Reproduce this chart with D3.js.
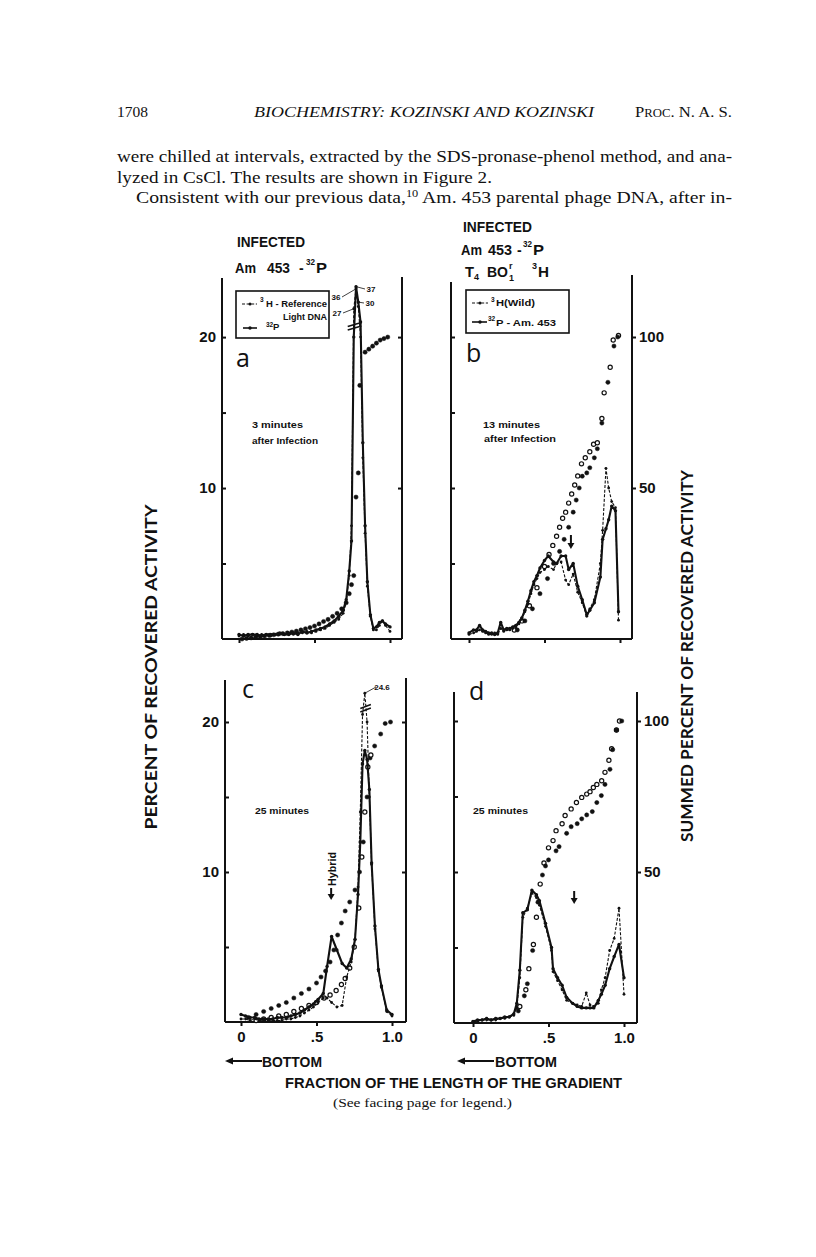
<!DOCTYPE html>
<html>
<head>
<meta charset="utf-8">
<script src="https://cdn.jsdelivr.net/npm/d3@7"></script>
<style>body{margin:0;background:#fff}</style>
</head>
<body>
<script>
// ---- panel a : 3 minutes ----
const xA = [0.00,0.03,0.06,0.09,0.12,0.15,0.18,0.21,0.24,0.27,0.30,0.33,0.36,0.39,0.42,0.45,0.48,0.51,0.54,0.57,0.60,0.63,0.66,0.69,
  0.71,0.73,0.745,0.76,0.775,0.79,0.805,0.82,0.835,0.85,0.87,0.89,0.91,0.93,0.95,0.97,1.00]
const h3A = [0.2,0.3,0.2,0.3,0.2,0.3,0.3,0.2,0.3,0.3,0.3,0.4,0.3,0.4,0.4,0.5,0.4,0.5,0.6,0.7,0.9,1.1,1.3,1.7,
  2.4,4.2,7.5,27,36,28,20,12,7,3.5,1.5,0.6,0.6,0.9,1.2,0.9,0.5]
const p32A = [0.3,0.2,0.3,0.3,0.3,0.2,0.3,0.3,0.3,0.4,0.3,0.3,0.4,0.3,0.5,0.4,0.5,0.6,0.7,0.8,1.0,1.2,1.5,1.9,
  2.6,4.5,6.5,20,37,30,21,13,7.5,3.8,1.6,0.7,0.8,1.1,1.2,1.0,0.8]
const sumAx = [0.02,0.05,0.08,0.11,0.14,0.17,0.20,0.23,0.26,0.29,0.32,0.35,0.38,0.41,0.44,0.47,0.50,0.53,0.56,0.59,0.62,0.65,0.68,0.71,
  0.73,0.745,0.76,0.775,0.79,0.80,0.835,0.86,0.885,0.91,0.935,0.96,0.985]
const sumA = [0,0.2,0.4,0.6,0.8,1,1.2,1.4,1.6,1.8,2,2.3,2.6,3,3.4,3.8,4.3,5,5.8,6.5,7.5,8.5,10,12,
  15,18,21,47,55,84,95,96,97,98,99,99.5,100]

// ---- panel b : 13 minutes ----
const xB = [0.00,0.03,0.05,0.07,0.09,0.11,0.13,0.15,0.17,0.19,0.21,0.23,0.25,0.27,0.29,0.31,0.33,0.35,0.37,0.39,0.41,0.43,0.45,0.47,
  0.50,0.525,0.56,0.58,0.61,0.64,0.66,0.69,0.72,0.75,0.78,0.80,0.83,0.87,0.885,0.907,0.925,0.945,0.97,0.99]
const p32B = [0.4,0.6,0.6,0.9,0.6,0.5,0.4,0.4,0.3,0.4,1.1,0.6,0.7,0.7,0.8,0.9,1.1,1.4,1.9,2.5,3.2,3.8,4.2,4.7,
  5.2,5.5,5.1,5.0,5.5,5.5,4.6,5.0,3.5,2.6,1.6,1.9,2.4,4.1,6.6,7.3,7.9,8.8,8.5,1.8]
const h3B = [0.3,0.4,0.5,0.6,0.5,0.4,0.3,0.3,0.4,0.3,0.7,0.5,0.6,0.6,0.7,0.8,1.0,1.3,1.8,2.3,3.0,3.6,4.0,4.4,
  4.6,4.8,4.6,5.0,5.1,3.9,3.6,4.3,3.1,2.4,1.5,2.0,2.6,5.0,7.2,11.3,10.0,9.1,8.7,1.25]
const sumB1x = [0.30,0.35,0.40,0.45,0.50,0.53,0.555,0.58,0.60,0.62,0.64,0.66,0.68,0.70,0.72,0.745,0.77,0.80,0.825,0.85,0.88,0.895,0.935,0.955,0.99]
const sumB1 = [3,6,11,17,24,28,31,34,37,40,42,45,48,51,54,58,60,62,64.5,65,73,81.5,90,99,100.5]
const sumB2x = [0.32,0.37,0.42,0.47,0.52,0.56,0.60,0.63,0.66,0.69,0.71,0.73,0.75,0.78,0.80,0.83,0.85,0.88,0.92,0.96,0.985]
const sumB2 = [3,6,10,15,20,25,29,33,37,42,46,50,53.9,55,56.7,60,63,71.5,85,97,100]

// ---- panel c : 25 minutes ----
const xC = [0.00,0.03,0.06,0.09,0.12,0.15,0.18,0.21,0.24,0.27,0.30,0.33,0.36,0.39,0.42,0.45,0.48,0.51,
  0.545,0.57,0.60,0.635,0.67,0.70,0.73,0.755,0.775,0.79,0.805,0.82,0.835,0.85,0.865,0.887,0.91,0.93,0.965,1.00]
const p32C = [0.5,0.4,0.3,0.3,0.2,0.2,0.2,0.2,0.3,0.3,0.3,0.4,0.5,0.6,0.8,1.0,1.2,1.5,
  1.9,3.7,5.7,4.8,3.9,3.6,4.2,5.5,8.5,12,17.2,18.1,17.5,15.5,10.6,6.4,3.5,2.4,0.8,0.5]
const h3C = [0.2,0.2,0.1,0.2,0.1,0.1,0.1,0.1,0.1,0.1,0.2,0.2,0.3,0.4,0.6,0.8,1.0,1.3,
  1.6,1.6,1.3,1.0,1.1,3.0,4.0,5.5,9,14,20.5,24.6,20,15,10.5,6.2,3.4,2.3,0.7,0.4]
const sumC1x = [0.05,0.10,0.15,0.20,0.25,0.30,0.35,0.40,0.45,0.50,0.53,0.56,0.59,0.615,0.64,0.665,0.69,0.72,0.755,0.785,0.81,0.835,0.855,0.885,0.925,0.955,0.99]
const sumC1 = [1.5,2.5,3.5,4.5,5.5,6.5,8,9.5,11,13,15,17,20,24,29,33,37,40,44,50,60,75,88,92,96,99.5,100]
const sumC2x = [0.10,0.15,0.20,0.25,0.30,0.35,0.40,0.45,0.50,0.55,0.59,0.63,0.665,0.69,0.72,0.75,0.78,0.80,0.82,0.84,0.86]
const sumC2 = [0.5,1,1.5,2,2.5,3.5,4.5,5.5,6.5,8,9,10.5,12.5,14.5,18,25,38,55,70,85,89]

// ---- panel d : 25 minutes ----
const xD = [0.00,0.03,0.06,0.09,0.12,0.15,0.18,0.21,0.24,0.27,0.29,0.31,0.33,0.36,0.39,0.42,0.44,0.48,0.52,0.53,
  0.56,0.59,0.62,0.66,0.69,0.72,0.75,0.775,0.80,0.83,0.85,0.875,0.905,0.935,0.967,1.00]
const p32D = [0.1,0.2,0.2,0.3,0.2,0.3,0.3,0.4,0.4,0.6,1.3,3.5,7.3,7.5,8.8,8.5,8.1,6.6,5.0,3.6,
  3.0,2.5,1.7,1.3,1.1,1.0,1.0,1.0,1.0,1.5,1.9,2.5,3.6,4.4,5.2,3.0]
const h3D = [0.1,0.1,0.2,0.2,0.2,0.2,0.3,0.3,0.4,0.5,1.0,3.0,7.0,7.6,8.6,8.3,7.8,6.4,4.8,3.4,
  2.8,2.2,1.5,1.3,1.2,1.1,2.0,1.2,1.1,1.3,2.2,3.0,4.8,5.6,7.6,1.9]
const sumD1x = [0.31,0.35,0.37,0.40,0.42,0.445,0.47,0.50,0.53,0.55,0.59,0.61,0.65,0.685,0.72,0.753,0.775,0.797,0.82,0.852,0.874,0.90,0.918,0.95,0.97]
const sumD1 = [5.5,11,18,26,35,46,53,58,60.4,63.7,66,68.7,70.9,73,74.7,75.8,76.6,78,79,80.2,83,87,90.8,97,100]
const sumD2x = [0.30,0.34,0.36,0.395,0.43,0.46,0.48,0.50,0.55,0.57,0.62,0.65,0.69,0.72,0.753,0.79,0.82,0.85,0.874,0.907,0.925,0.95,0.985]
const sumD2 = [4,9,13,24,40,49,52,54,57,58.4,62.8,65,66,67.6,68.9,70,73,75.3,79,84,90.5,97,100]

const xTicks = [0, 0.5, 1]
const xTickText = ["0", ".5", "1.0"]

const ink = "#111"
const svg = d3.select("body").append("svg").attr("width", 816).attr("height", 1257)
svg.append("rect").attr("width", 816).attr("height", 1257).attr("fill", "#fff")

function label(x, y, s, o = {}) {
  const t = svg.append("text").attr("x", x).attr("y", y)
    .attr("font-family", o.family || "Liberation Sans")
    .attr("font-size", o.size || 12)
    .attr("font-weight", o.weight || "bold")
    .attr("font-style", o.style || "normal")
    .attr("text-anchor", o.anchor || "start")
    .attr("fill", ink)
    .text(s)
  if (o.len) t.attr("textLength", o.len).attr("lengthAdjust", "spacingAndGlyphs")
  if (o.rotate) t.attr("transform", `rotate(${o.rotate},${x},${y})`)
  return t
}

// page header and running text
label(117, 117, "1708", {family: "Liberation Serif", weight: "normal", size: 15, len: 31})
label(254, 117, "BIOCHEMISTRY:  KOZINSKI AND KOZINSKI", {family: "Liberation Serif", weight: "normal", style: "italic", size: 15, len: 340})
const proc = label(635, 117, "", {family: "Liberation Serif", weight: "normal", size: 15, len: 97})
proc.append("tspan").text("P")
proc.append("tspan").attr("font-size", 11.5).text("ROC")
proc.append("tspan").text(". N. A. S.")

const body = {family: "Liberation Serif", weight: "normal", size: 16}
label(117, 162, "were chilled at intervals, extracted by the SDS-pronase-phenol method, and ana-", {...body, len: 615})
label(117, 183, "lyzed in CsCl.   The results are shown in Figure 2.", {...body, len: 375})
const l3 = label(136, 203, "", {...body, len: 596})
l3.append("tspan").text("Consistent with our previous data,")
l3.append("tspan").attr("font-size", 10).attr("dy", -6).text("10")
l3.append("tspan").attr("dy", 6).text(" Am. 453 parental phage DNA, after in-")

// panel titles
const tt = {size: 14}
label(237, 247, "INFECTED", {...tt, len: 68})
label(235, 273, "Am", {...tt, len: 21})
label(267, 273, "453", {...tt, len: 23})
label(299, 273, "-", tt)
label(306, 265, "32", {size: 9, len: 9})
label(316, 273, "P", {...tt, len: 11})

label(463, 232, "INFECTED", {...tt, len: 69})
label(461, 255, "Am", {...tt, len: 21})
label(488, 255, "453", {...tt, len: 24})
label(517, 255, "-", tt)
label(523, 247, "32", {size: 9, len: 9})
label(533, 255, "P", {...tt, len: 11})

label(465, 277, "T", {...tt, len: 9})
label(474, 280, "4", {size: 9})
label(487, 277, "BO", {...tt, len: 21})
label(509, 269, "r", {size: 9})
label(509, 281, "1", {size: 9})
label(532, 269, "3", {size: 9})
label(538, 277, "H", {...tt, len: 11})

// shared text
label(157, 667, "PERCENT OF RECOVERED  ACTIVITY", {family: "Lato", size: 17, anchor: "middle", rotate: -90, len: 325})
label(693, 656, "SUMMED PERCENT OF RECOVERED  ACTIVITY", {family: "Lato", size: 17, anchor: "middle", rotate: -90, len: 372})

function arrowLeft(x1, x2, y) {
  svg.append("line").attr("x1", x1 + 6).attr("x2", x2).attr("y1", y).attr("y2", y).attr("stroke", ink).attr("stroke-width", 2)
  svg.append("path").attr("d", `M${x1},${y}L${x1 + 8},${y - 3.5}L${x1 + 8},${y + 3.5}Z`).attr("fill", ink)
}
arrowLeft(225, 262, 1061)
label(262, 1067, "BOTTOM", {size: 15, len: 60})
arrowLeft(457, 494, 1061)
label(495, 1067, "BOTTOM", {size: 15, len: 62})
label(285, 1088, "FRACTION OF THE LENGTH OF THE GRADIENT", {size: 15, len: 337})
label(333, 1107, "(See facing page for legend.)", {family: "Liberation Serif", weight: "normal", size: 13.5, len: 179})

function arrowDown(x, y1, y2) {
  svg.append("line").attr("x1", x).attr("x2", x).attr("y1", y1).attr("y2", y2 - 4).attr("stroke", ink).attr("stroke-width", 2)
  svg.append("path").attr("d", `M${x - 3.5},${y2 - 6}L${x + 3.5},${y2 - 6}L${x},${y2}Z`).attr("fill", ink)
}

function drawPanel(p) {
  const x = d3.scaleLinear().domain([0, 1]).range([p.x0, p.x1])
  const y = d3.scaleLinear().domain(p.yDom).range(p.yRng)
  const yR = d3.scaleLinear().domain([0, 100]).range([y(0), y(20)])
  const g = svg.append("g").attr("stroke", ink).attr("fill", "none")

  g.append("line").attr("x1", p.left).attr("x2", p.left).attr("y1", p.topL).attr("y2", p.y0).attr("stroke-width", 2)
  g.append("line").attr("x1", p.right).attr("x2", p.right).attr("y1", p.topR).attr("y2", p.y0).attr("stroke-width", 2)
  g.append("line").attr("x1", p.left).attr("x2", p.right).attr("y1", p.y0).attr("y2", p.y0).attr("stroke-width", 2)

  const clean = a => a.call(s => s.select(".domain").remove())
    .call(s => s.selectAll("line").attr("stroke", ink).attr("stroke-width", 2))
    .call(s => s.selectAll("text").attr("fill", ink).attr("font-family", "Liberation Sans").attr("font-weight", "bold").attr("font-size", 15))

  svg.append("g").attr("transform", `translate(${p.left},0)`)
    .call(d3.axisRight(y).tickValues([5, 10, 15, 20]).tickSize(4).tickFormat("")).call(clean)
  if (p.leftLabels)
    svg.append("g").attr("transform", `translate(${p.left},0)`)
      .call(d3.axisLeft(y).tickValues([10, 20]).tickSize(0).tickPadding(6)).call(clean)
  if (p.rightLabels)
    svg.append("g").attr("transform", `translate(${p.right},0)`)
      .call(d3.axisRight(yR).tickValues([50, 100]).tickSize(4).tickPadding(3)).call(clean)
  else
    svg.append("g").attr("transform", `translate(${p.right},0)`)
      .call(d3.axisLeft(y).tickValues([10, 20]).tickSize(4).tickFormat("")).call(clean)
  svg.append("g").attr("transform", `translate(0,${p.y0})`)
    .call(d3.axisBottom(x).tickValues(xTicks).tickSize(4).tickPadding(5)
      .tickFormat((d, i) => p.bottomLabels ? xTickText[i] : "")).call(clean)

  // summed activity, read on the right-hand scale
  p.sums.forEach(s => {
    svg.append("g").selectAll("circle").data(s.ys).join("circle")
      .attr("cx", (d, i) => x(s.xs[i])).attr("cy", d => yR(d)).attr("r", 2.1)
      .attr("fill", s.open ? "#fff" : ink).attr("stroke", ink).attr("stroke-width", s.open ? 1.2 : 0.5)
  })

  p.lines.forEach(s => {
    const line = d3.line().x((d, i) => x(s.xs[i])).y(d => y(d))
    svg.append("path").datum(s.ys).attr("d", line).attr("fill", "none").attr("stroke", ink)
      .attr("stroke-width", s.dashed ? 1.1 : 2.1).attr("stroke-dasharray", s.dashed ? "3,1.6" : null)
      .attr("stroke-linejoin", "round")
    svg.append("g").selectAll("circle").data(s.ys).join("circle")
      .attr("cx", (d, i) => x(s.xs[i])).attr("cy", d => y(d)).attr("r", s.dashed ? 1.4 : 1.7).attr("fill", ink)
  })
  return {x, y, yR}
}

const A = drawPanel({left: 222, right: 402, topL: 278, topR: 277, x0: 239, x1: 390, y0: 639,
  yDom: [0, 21, 40], yRng: [639, 322, 280], leftLabels: true,
  lines: [{xs: xA, ys: h3A, dashed: true}, {xs: xA, ys: p32A}], sums: [{xs: sumAx, ys: sumA}]})
const B = drawPanel({left: 451, right: 632, topL: 282, topR: 275, x0: 469, x1: 620, y0: 639,
  yDom: [0, 20], yRng: [639, 337], rightLabels: true,
  lines: [{xs: xB, ys: h3B, dashed: true}, {xs: xB, ys: p32B}],
  sums: [{xs: sumB1x, ys: sumB1, open: true}, {xs: sumB2x, ys: sumB2}]})
const C = drawPanel({left: 225, right: 406, topL: 680, topR: 678, x0: 241, x1: 392, y0: 1022,
  yDom: [0, 21, 25], yRng: [1022, 707, 691.7], leftLabels: true, bottomLabels: true,
  lines: [{xs: xC, ys: h3C, dashed: true}, {xs: xC, ys: p32C}],
  sums: [{xs: sumC1x, ys: sumC1}, {xs: sumC2x, ys: sumC2, open: true}]})
const D = drawPanel({left: 454, right: 637, topL: 692, topR: 692, x0: 473, x1: 624, y0: 1023,
  yDom: [0, 20], yRng: [1023, 721], rightLabels: true, bottomLabels: true,
  lines: [{xs: xD, ys: h3D, dashed: true}, {xs: xD, ys: p32D}],
  sums: [{xs: sumD1x, ys: sumD1, open: true}, {xs: sumD2x, ys: sumD2}]})

// break marks on the off-scale peaks
function breakMark(P, xa, xb, v) {
  [0, 3.5].forEach(o => svg.append("line")
    .attr("x1", P.x(xa)).attr("x2", P.x(xb)).attr("y1", P.y(v) + 2 - o).attr("y2", P.y(v) - 2 - o)
    .attr("stroke", ink).attr("stroke-width", 1.6))
}
breakMark(A, 0.72, 0.81, 20.6)
breakMark(C, 0.79, 0.86, 20.8)

// peak value notes
const note = {size: 8}
function peakNote(P, s, tx, ty, fx, fv) {
  label(tx, ty, s, {...note, anchor: "middle"})
  svg.append("line").attr("x1", tx + (P.x(fx) > tx ? 6 : -6)).attr("y1", ty - 3).attr("x2", P.x(fx)).attr("y2", P.y(fv))
    .attr("stroke", ink).attr("stroke-width", 0.8)
}
peakNote(A, "36", 336, 300, 0.775, 36)
peakNote(A, "37", 371, 292, 0.775, 37)
peakNote(A, "30", 370, 306, 0.79, 30)
peakNote(A, "27", 337, 316, 0.76, 27)
peakNote(C, "24.6", 382, 690, 0.82, 24.6)

// legends
svg.append("rect").attr("x", 236).attr("y", 291).attr("width", 93).attr("height", 47)
  .attr("fill", "none").attr("stroke", ink).attr("stroke-width", 1.6)
svg.append("line").attr("x1", 242).attr("x2", 257).attr("y1", 304).attr("y2", 304).attr("stroke", ink).attr("stroke-dasharray", "3,1.6")
svg.append("circle").attr("cx", 250).attr("cy", 304).attr("r", 1.5).attr("fill", ink)
label(266, 307, "H - Reference", {size: 9, len: 61})
label(260, 302, "3", {size: 6.5})
label(283, 320, "Light DNA", {size: 9, len: 44})
svg.append("line").attr("x1", 243).attr("x2", 257).attr("y1", 328).attr("y2", 328).attr("stroke", ink).attr("stroke-width", 1.6)
svg.append("circle").attr("cx", 250).attr("cy", 328).attr("r", 1.7).attr("fill", ink)
label(266, 327, "32", {size: 6.5})
label(273, 330, "P", {size: 9.5})

svg.append("rect").attr("x", 466).attr("y", 290).attr("width", 103).attr("height", 43)
  .attr("fill", "none").attr("stroke", ink).attr("stroke-width", 1.6)
svg.append("line").attr("x1", 472).attr("x2", 488).attr("y1", 303).attr("y2", 303).attr("stroke", ink).attr("stroke-dasharray", "3,1.6")
svg.append("circle").attr("cx", 480).attr("cy", 303).attr("r", 1.5).attr("fill", ink)
label(491, 302, "3", {size: 6.5})
label(496, 306, "H(Wild)", {size: 9, len: 39})
svg.append("line").attr("x1", 472).attr("x2", 487).attr("y1", 322).attr("y2", 322).attr("stroke", ink).attr("stroke-width", 1.6)
svg.append("circle").attr("cx", 480).attr("cy", 322).attr("r", 1.7).attr("fill", ink)
label(488, 321, "32", {size: 6.5})
label(496, 326, "P - Am. 453", {size: 9, len: 60})

// panel letters and times
const big = {family: "Open Sans", weight: "normal", size: 25}
label(236, 367, "a", big)
label(466, 362, "b", big)
label(242, 698, "c", big)
label(469, 700, "d", big)
const small = {size: 9.5}
label(252, 428, "3 minutes", {...small, len: 51})
label(252, 444, "after Infection", {...small, len: 66})
label(483, 428, "13 minutes", {...small, len: 57})
label(484, 442, "after Infection", {...small, len: 72})
label(255, 814, "25 minutes", {...small, len: 54})
label(473, 814, "25 minutes", {...small, len: 55})

// markers
arrowDown(B.x(0.675), 535, 549)
arrowDown(D.x(0.67), 891, 904)
arrowDown(C.x(0.597), 888, 900)
label(336, 869, "Hybrid", {size: 10, anchor: "middle", rotate: -90, len: 34})
</script>
</body>
</html>
